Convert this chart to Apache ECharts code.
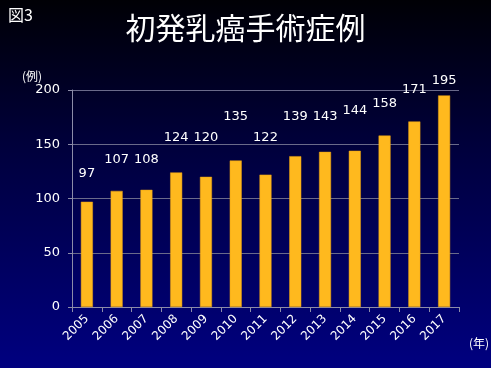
<!DOCTYPE html>
<html><head><meta charset="utf-8">
<script src="https://cdn.jsdelivr.net/npm/echarts@6/dist/echarts.min.js"></script>
<style>html,body{margin:0;padding:0;}#c{width:491px;height:368px;background:linear-gradient(to bottom,#000005 0%,#00003c 40%,#000080 100%);}</style>
</head><body><div id="c"></div>
<script>
const years = ['2005','2006','2007','2008','2009','2010','2011','2012','2013','2014','2015','2016','2017'];
const cases = [97,107,108,124,120,135,122,139,143,144,158,171,195];
const yTicks = [0,50,100,150,200];
// label lift above bar top (layout only)
const labelLift = [22,25,24,28,33,37,31,33,29,34,25,25,8];

const chart = echarts.init(document.getElementById('c'), null, {renderer:'canvas'});
const font = '"DejaVu Sans", Verdana, sans-serif';
chart.setOption({
  backgroundColor: 'transparent',
  title: [
    {text:'初発乳癌手術症例', left:'center', top:8, textStyle:{color:'#ffffff', fontSize:30, fontWeight:'normal', fontFamily:'"Noto Sans CJK JP", sans-serif'}},
    {text:'図3', left:3, top:2, textStyle:{color:'#ffffff', fontSize:16, fontWeight:'normal', fontFamily:'"Noto Sans CJK JP", sans-serif'}},
    {text:'(例)', left:17, top:65, textStyle:{color:'#ffffff', fontSize:12, fontWeight:'normal', fontFamily:'"Noto Sans CJK JP", sans-serif'}},
    {text:'(年)', left:464, top:332, textStyle:{color:'#ffffff', fontSize:12, fontWeight:'normal', fontFamily:'"Noto Sans CJK JP", sans-serif'}}
  ],
  grid: {left:72, right:32, top:90, bottom:61, containLabel:false},
  xAxis: {
    type:'category', data: years,
    axisLine:{lineStyle:{color:'#8c8ca8', width:1}},
    axisTick:{show:true, alignWithLabel:false, length:5, lineStyle:{color:'#8c8ca8'}},
    axisLabel:{color:'#ffffff', fontSize:12, rotate:45, margin:10, fontFamily:font}
  },
  yAxis: {
    type:'value', min:yTicks[0], max:yTicks[yTicks.length-1], interval:50,
    axisLine:{show:true, lineStyle:{color:'#8c8ca8', width:1}},
    axisTick:{show:true, length:4, lineStyle:{color:'#8c8ca8'}},
    axisLabel:{color:'#ffffff', fontSize:13, margin:12, fontFamily:font},
    splitLine:{show:true, lineStyle:{color:'#6a6a8a', width:1}}
  },
  series: [{
    type:'bar', barWidth:12,
    data: cases.map((v,i)=>({value:v, label:{distance:labelLift[i]}})),
    itemStyle:{color:'#FFB91E', borderColor:'#E8A010', borderWidth:0.5},
    label:{show:true, position:'top', color:'#ffffff', fontSize:13, fontFamily:font},
    animation:false
  }],
  animation:false
});
</script></body></html>
